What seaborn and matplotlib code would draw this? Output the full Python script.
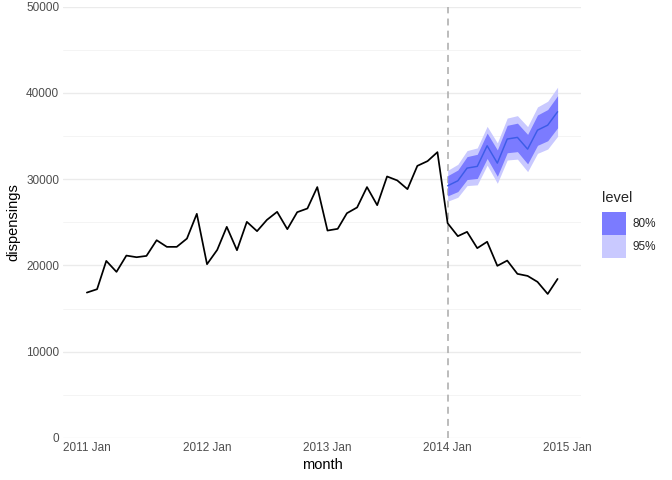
import pandas as pd
import numpy as np
import matplotlib
matplotlib.use('Agg')
import matplotlib.pyplot as plt
import matplotlib.dates as mdates
from matplotlib.patches import Patch
from matplotlib.ticker import MultipleLocator
import seaborn as sns

# Observed monthly dispensings, 2011 Jan - 2014 Dec
months = pd.date_range('2011-01-01', '2014-12-01', freq='MS')
dispensings = [16860, 17250, 20530, 19260, 21150, 20960, 21110, 22930, 22160, 22160, 23120, 25990,
               20150, 21810, 24480, 21770, 25060, 23980, 25290, 26220, 24210, 26180, 26610, 29090,
               24050, 24250, 26060, 26730, 29090, 26990, 30320, 29860, 28850, 31550, 32100, 33140,
               24900, 23400, 23900, 22010, 22750, 19960, 20570, 19030, 18790, 18100, 16700, 18440]

# Forecast for 2014 (made at end of 2013)
fc_months = pd.date_range('2014-01-01', '2014-12-01', freq='MS')
fc_mean = [29240, 29820, 31290, 31490, 33880, 31870, 34660, 34850, 33490, 35690, 36270, 37820]
lo80 = [28070, 28570, 29960, 30090, 32410, 30340, 33070, 33200, 31780, 33930, 34460, 35960]
hi80 = [30410, 31070, 32620, 32890, 35350, 33400, 36250, 36500, 35200, 37450, 38080, 39680]
lo95 = [27450, 27910, 29260, 29350, 31630, 29530, 32230, 32330, 30880, 33000, 33500, 34970]
hi95 = [31030, 31730, 33320, 33630, 36130, 34210, 37090, 37370, 36100, 38380, 39040, 40670]

levels = ['80%', '95%']
level_colors = {'80%': '#7b7bff', '95%': '#c9c9ff'}

df = pd.DataFrame({'month': months, 'dispensings': dispensings})
fc = pd.DataFrame({'month': fc_months, 'mean': fc_mean,
                   'lo80': lo80, 'hi80': hi80, 'lo95': lo95, 'hi95': hi95})

sns.set_theme(style='whitegrid')
plt.rcParams['font.family'] = ['Liberation Sans', 'DejaVu Sans']

fig = plt.figure(figsize=(7, 5), dpi=96)
ax = fig.add_axes([0.094, 0.0875, 0.771, 0.8985])

# prediction intervals
ax.fill_between(fc['month'], fc['lo95'], fc['hi95'], color=level_colors['95%'], lw=0, zorder=2)
ax.fill_between(fc['month'], fc['lo80'], fc['hi80'], color=level_colors['80%'], lw=0, zorder=3)
sns.lineplot(data=fc, x='month', y='mean', color='#3d5ce8', lw=1.1, ax=ax, zorder=4)

sns.lineplot(data=df, x='month', y='dispensings', color='black', lw=1.3, ax=ax, zorder=5)

ax.axvline(pd.Timestamp('2014-01-01'), color='#b3b3b3', ls=(0, (4, 3)), lw=1.3, zorder=1)

# axes styling (ggplot theme_minimal look), 5% padding on the time axis
ax.set_ylim(0, 50000)
ax.set_xlim(pd.Timestamp('2010-10-21'), pd.Timestamp('2015-02-11'))
ax.yaxis.set_major_locator(MultipleLocator(10000))
ax.yaxis.set_minor_locator(MultipleLocator(5000))
ax.xaxis.set_major_locator(mdates.YearLocator())
ax.xaxis.set_minor_locator(mdates.MonthLocator(bymonth=7))
ax.xaxis.set_major_formatter(mdates.DateFormatter('%Y %b'))

ax.set_facecolor('white')
for s in ax.spines.values():
    s.set_visible(False)
ax.grid(which='major', color='#ebebeb', lw=1.0)
ax.grid(which='minor', axis='y', color='#f2f2f2', lw=0.6)
ax.grid(which='both', axis='x', visible=False)
ax.tick_params(axis='both', which='both', length=0, labelsize=8.8, labelcolor='#4d4d4d', pad=3)

ax.set_xlabel('month', fontsize=11, color='black', labelpad=3)
ax.set_ylabel('dispensings', fontsize=11, color='black', labelpad=4)

handles = [Patch(facecolor=level_colors[l], edgecolor='none', label=l) for l in levels]
leg = fig.legend(handles=handles, title='level', loc='center left',
                 bbox_to_anchor=(0.896, 0.532), frameon=False, fontsize=8.8,
                 title_fontsize=11, handlelength=2.05, handleheight=2.65,
                 handletextpad=0.55, labelspacing=0.0, borderaxespad=0, borderpad=0)
leg._legend_box.align = 'left'
leg._legend_box.sep = 5

fig.savefig('out.png', dpi=96)
